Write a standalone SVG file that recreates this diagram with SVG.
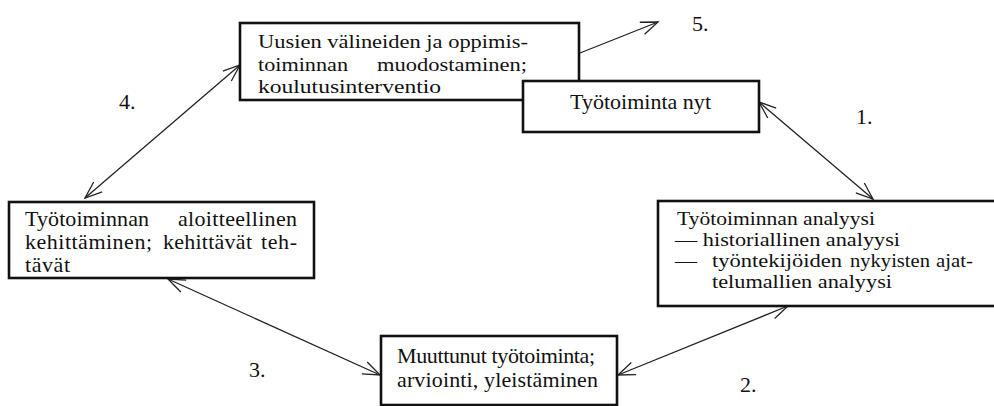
<svg xmlns="http://www.w3.org/2000/svg" width="994" height="406" viewBox="0 0 994 406">
<style>
.box{fill:#fff;stroke:#111;stroke-width:2.6}
text{font-family:'Liberation Serif','Times New Roman',serif;font-size:22px;fill:#111}
.d text,.a text{font-size:19.5px}
.c{fill:none;stroke:#222;stroke-width:1.3}
</style>
<defs>
<marker id="ah" viewBox="-20 -10 22 20" markerWidth="22" markerHeight="20" refX="0" refY="0" orient="auto-start-reverse" markerUnits="userSpaceOnUse">
<path d="M-17,-6.5 L0,0 L-17,6.5" fill="none" stroke="#222" stroke-width="1.3"/>
</marker>
</defs>
<g id="connectors">
<line class="c" x1="580" y1="53" x2="658" y2="22" marker-end="url(#ah)"/>
<line class="c" x1="240" y1="65" x2="85" y2="198" marker-start="url(#ah)" marker-end="url(#ah)"/>
<line class="c" x1="759" y1="102" x2="873" y2="199" marker-start="url(#ah)" marker-end="url(#ah)"/>
<line class="c" x1="618" y1="375" x2="788" y2="306" marker-start="url(#ah)" marker-end="url(#ah)"/>
<line class="c" x1="168" y1="279" x2="380" y2="375" marker-start="url(#ah)" marker-end="url(#ah)"/>
</g>
<g id="labels">
<text x="692" y="31">5.</text>
<text x="119" y="109">4.</text>
<text x="856" y="124">1.</text>
<text x="740" y="392">2.</text>
<text x="249" y="377">3.</text>
</g>
<g id="node-uusien" class="a">
<rect class="box" x="240" y="23" width="339" height="77"/>
<text x="258" y="48" textLength="270" lengthAdjust="spacingAndGlyphs">Uusien välineiden ja oppimis-</text>
<text x="258" y="71" textLength="90" lengthAdjust="spacingAndGlyphs">toiminnan</text>
<text x="377" y="71" textLength="150" lengthAdjust="spacingAndGlyphs">muodostaminen;</text>
<text x="258" y="93" textLength="183" lengthAdjust="spacingAndGlyphs">koulutusinterventio</text>
</g>
<g id="node-nyt">
<rect class="box" x="523" y="81" width="236" height="51"/>
<text x="570" y="109" textLength="141">Työtoiminta nyt</text>
</g>
<g id="node-aloitteellinen">
<rect class="box" x="9" y="202" width="305" height="76"/>
<text x="25" y="226" textLength="124">Työtoiminnan</text>
<text x="178" y="226" textLength="119">aloitteellinen</text>
<text x="25" y="249" textLength="127">kehittäminen;</text>
<text x="163" y="249" textLength="89">kehittävät</text>
<text x="261" y="249" textLength="36">teh-</text>
<text x="25" y="272" textLength="45">tävät</text>
</g>
<g id="node-analyysi" class="d">
<rect class="box" x="658" y="201" width="342" height="105"/>
<text x="677" y="225" textLength="198" lengthAdjust="spacingAndGlyphs">Työtoiminnan analyysi</text>
<text x="675" y="246" textLength="225" lengthAdjust="spacingAndGlyphs">— historiallinen analyysi</text>
<text x="675" y="267" textLength="22" lengthAdjust="spacingAndGlyphs">—</text>
<text x="712" y="267" textLength="130" lengthAdjust="spacingAndGlyphs">työntekijöiden</text>
<text x="850" y="267" textLength="80" lengthAdjust="spacingAndGlyphs">nykyisten</text>
<text x="936" y="267" textLength="37" lengthAdjust="spacingAndGlyphs">ajat-</text>
<text x="712" y="288" textLength="180" lengthAdjust="spacingAndGlyphs">telumallien analyysi</text>
</g>
<g id="node-muuttunut">
<rect class="box" x="381" y="336" width="236" height="69"/>
<text x="397" y="363" textLength="198">Muuttunut työtoiminta;</text>
<text x="397" y="387" textLength="201">arviointi, yleistäminen</text>
</g>
</svg>
